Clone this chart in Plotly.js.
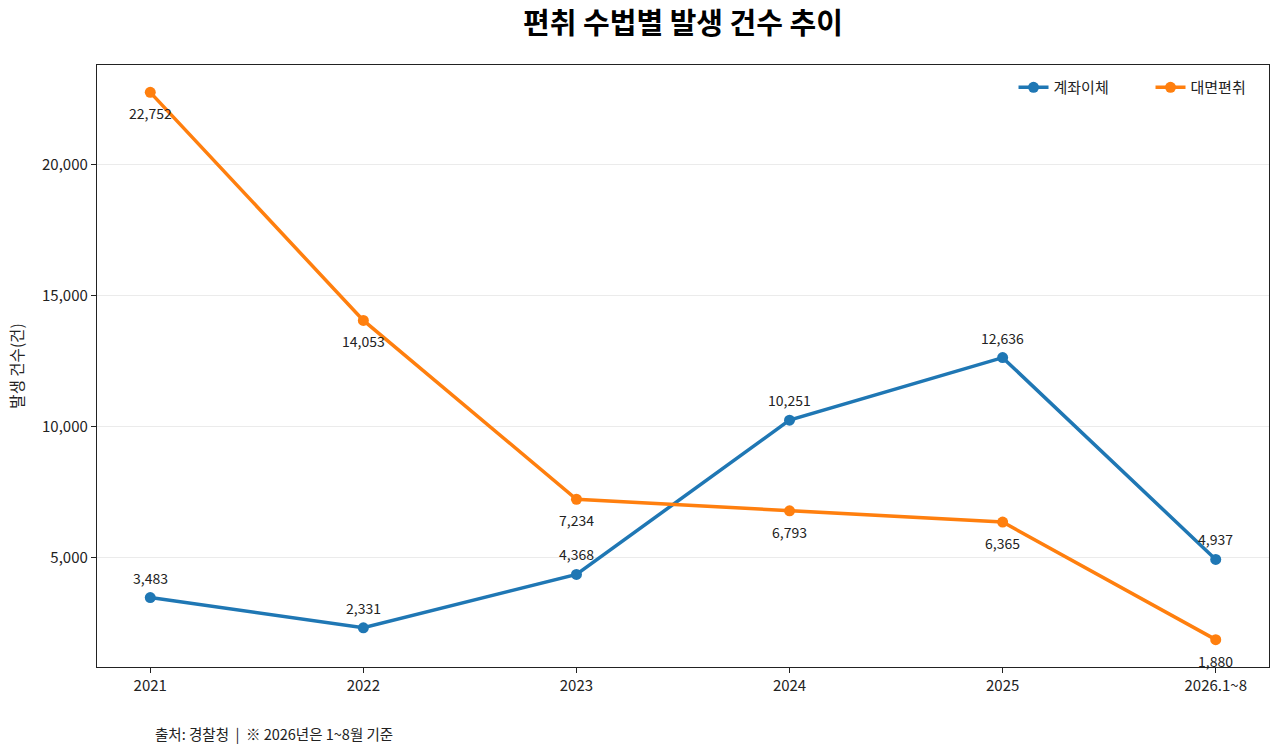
<!DOCTYPE html>
<html>
<head>
<meta charset="utf-8">
<script src="https://cdn.plot.ly/plotly-3.0.1.min.js"></script>
<style>html,body{margin:0;padding:0;background:#fff;}#chart{width:1280px;height:756px;}</style>
</head>
<body>
<div id="chart"></div>
<script>
const categories = ["2021", "2022", "2023", "2024", "2025", "2026.1~8"];
const transfer = [3483, 2331, 4368, 10251, 12636, 4937];
const faceToFace = [22752, 14053, 7234, 6793, 6365, 1880];
const seriesNames = ["계좌이체", "대면편취"];
const yTicks = [5000, 10000, 15000, 20000];
const yTickLabels = ["5,000", "10,000", "15,000", "20,000"];

const FONT = "Noto Sans CJK KR, Noto Sans, sans-serif";
const fmt = v => v.toLocaleString("en-US");

const traces = [
  {x: categories, y: transfer, name: seriesNames[0], mode: "lines+markers",
   line: {color: "#1f77b4", width: 3.5}, marker: {color: "#1f77b4", size: 11}},
  {x: categories, y: faceToFace, name: seriesNames[1], mode: "lines+markers",
   line: {color: "#ff7f0e", width: 3.5}, marker: {color: "#ff7f0e", size: 11}}
];

const annotations = [];
categories.forEach((c, i) => {
  annotations.push({x: i, y: transfer[i], xref: "x", yref: "y", text: fmt(transfer[i]),
    showarrow: false, yshift: 20, font: {family: FONT, size: 14, color: "#222"}});
  annotations.push({x: i, y: faceToFace[i], xref: "x", yref: "y", text: fmt(faceToFace[i]),
    showarrow: false, yshift: -21, font: {family: FONT, size: 14, color: "#222"}});
});
annotations.push({xref: "paper", yref: "paper", x: 0.048, y: -0.111, xanchor: "left", yanchor: "middle",
  text: "출처: 경찰청  |  ※ 2026년은 1~8월 기준", showarrow: false,
  font: {family: FONT, size: 14.5, color: "#222"}});

const layout = {
  width: 1280, height: 756,
  margin: {l: 97, r: 11, t: 65, b: 89, autoexpand: false},
  paper_bgcolor: "#fff", plot_bgcolor: "#fff",
  font: {family: FONT, color: "#222"},
  title: {text: "<b>편취 수법별 발생 건수 추이</b>", xref: "paper", x: 0.5, xanchor: "center",
    y: 0.968, yanchor: "middle",
    font: {family: FONT, size: 29, color: "#000"}},
  xaxis: {type: "category", range: [-0.25, 5.25], showgrid: false, zeroline: false,
    showline: true, linecolor: "#222", linewidth: 1.2, mirror: true,
    ticks: "outside", ticklen: 5, tickcolor: "#222", automargin: false,
    tickfont: {family: FONT, size: 15, color: "#222"}},
  yaxis: {range: [836, 23796], tickvals: yTicks, ticktext: yTickLabels,
    showgrid: true, gridcolor: "#ebebeb", gridwidth: 1, zeroline: false,
    showline: true, linecolor: "#222", linewidth: 1.2, mirror: true,
    ticks: "outside", ticklen: 5, tickcolor: "#222", automargin: false,
    tickfont: {family: FONT, size: 15, color: "#222"},
    title: {text: "발생 건수(건)", standoff: 14, font: {family: FONT, size: 15.5, color: "#222"}}},
  legend: {orientation: "h", x: 1.0158, xanchor: "right", y: 0.99, yanchor: "top",
    bgcolor: "rgba(255,255,255,0)", font: {family: FONT, size: 15, color: "#222"},
    entrywidth: 92, entrywidthmode: "pixels"},
  annotations: annotations,
  showlegend: true
};

Plotly.newPlot("chart", traces, layout, {displayModeBar: false, staticPlot: true});
</script>
</body>
</html>
